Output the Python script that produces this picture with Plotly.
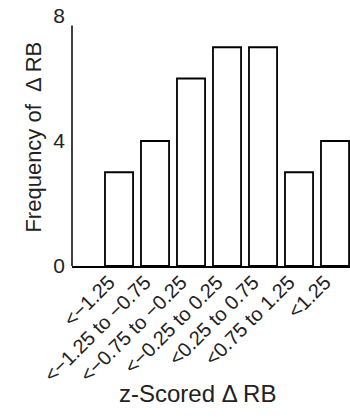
import plotly.graph_objects as go

categories = ["<−1.25", "<−1.25 to −0.75", "<−0.75 to −0.25", "<−0.25 to 0.25",
              "<0.25 to 0.75", "<0.75 to 1.25", "<1.25"]
frequency = [3, 4, 6, 7, 7, 3, 4]
y_ticks = [0, 4, 8]

x_pos = list(range(len(categories)))

fig = go.Figure()
fig.add_trace(go.Bar(
    x=x_pos, y=frequency, width=0.78,
    marker=dict(color="white", line=dict(color="black", width=1.8)),
    showlegend=False, hoverinfo="skip",
))

font = "Liberation Sans, Arial, sans-serif"
fig.update_layout(
    width=350, height=419,
    margin=dict(l=72, r=0, t=16, b=153),
    paper_bgcolor="white", plot_bgcolor="white",
    font=dict(family=font, color="#222", size=20),
    xaxis=dict(
        range=[-1.306, 6.416], automargin=False,
        tickmode="array", tickvals=x_pos, ticktext=categories,
        tickangle=-45, showgrid=False, zeroline=False,
        showline=True, linecolor="black", linewidth=1.5,
        ticks="", tickfont=dict(size=20), ticklabelshift=-10, ticklabelstandoff=-5,
    ),
    yaxis=dict(
        range=[0, 8], automargin=False, tickmode="array", tickvals=y_ticks,
        showgrid=False, zeroline=False, showline=False, ticks="",
        tickfont=dict(size=21), ticklabelstandoff=6,
    ),
    shapes=[dict(type="line", xref="paper", yref="y", x0=0, x1=0, y0=0, y1=7.7,
                 line=dict(color="black", width=1.5))],
    annotations=[
        dict(text="z-Scored Δ RB", xref="paper", yref="paper",
             x=0.45, y=-0.508, xanchor="center", yanchor="middle",
             showarrow=False, font=dict(size=24)),
        dict(text="Frequency of  Δ RB", xref="paper", yref="paper",
             x=-0.14, y=0.514, xanchor="center", yanchor="middle", textangle=-90,
             showarrow=False, font=dict(size=22)),
    ],
)

fig.write_html("out.html", config={"displayModeBar": False},
               post_script="document.body.style.margin='0';")
